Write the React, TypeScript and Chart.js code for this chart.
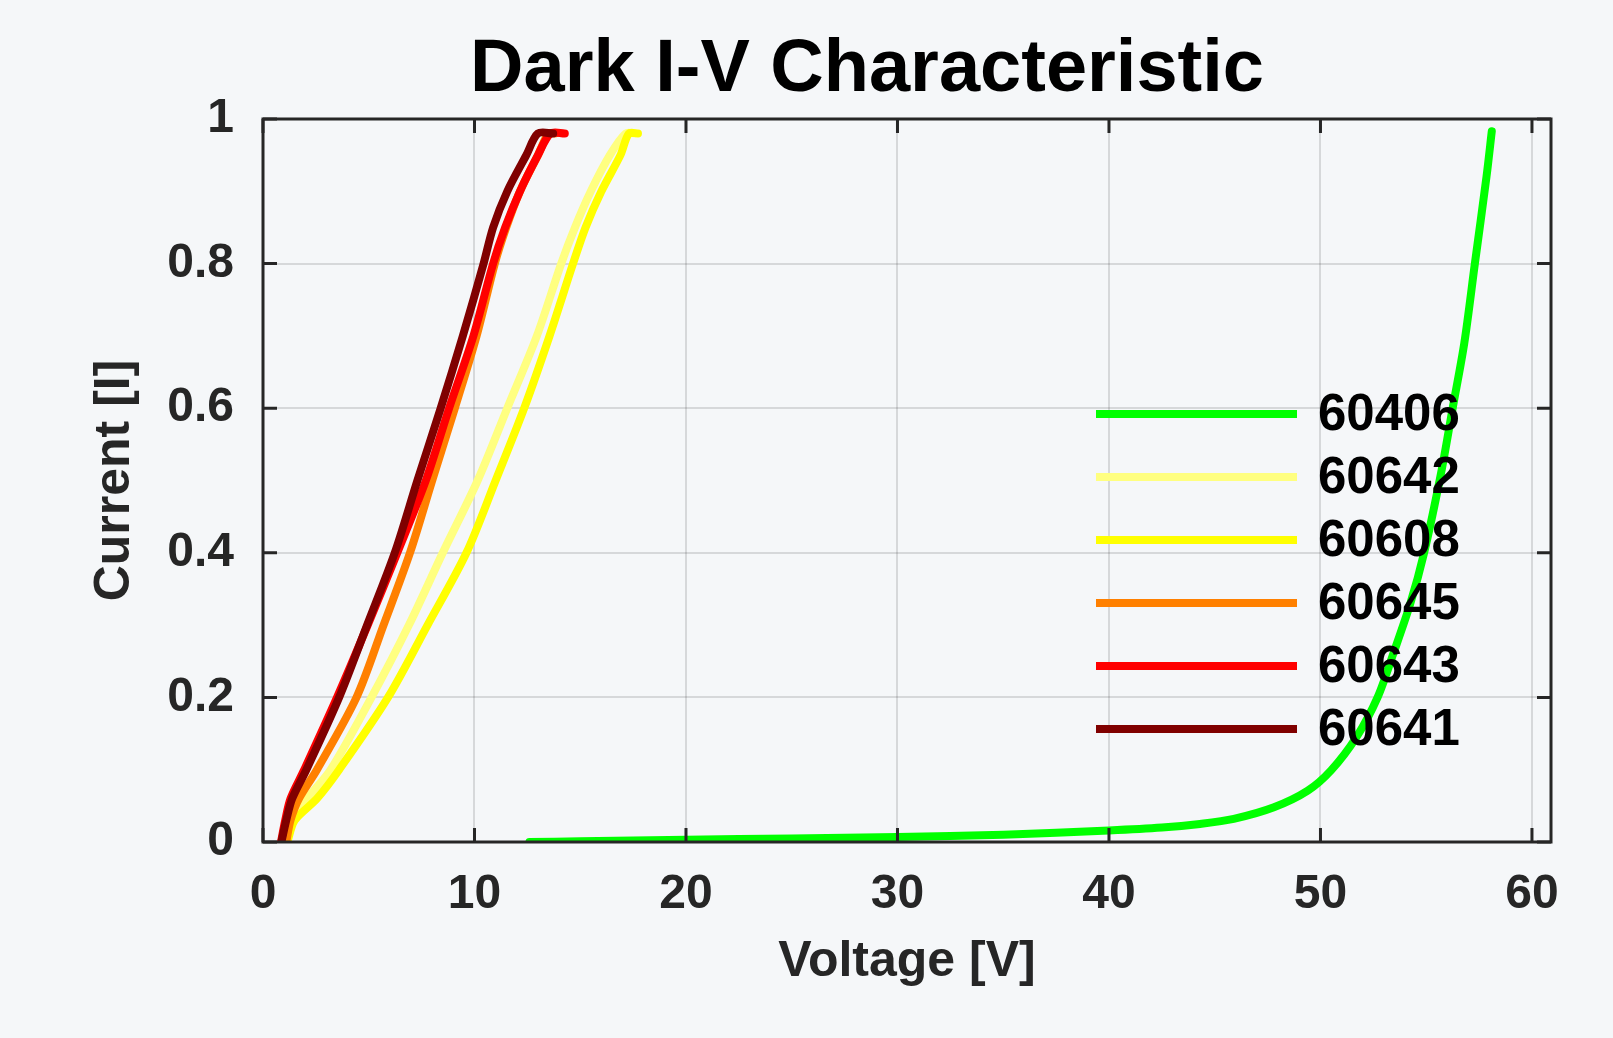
import React, { useEffect, useRef } from "react";
import { Chart, registerables } from "chart.js";

Chart.register(...registerables);

const FONT = '"Liberation Sans", Arial, Helvetica, sans-serif';
const BG = "#f5f7f9";
const AXIS_COLOR = "#262626";

const TITLE = "Dark I-V Characteristic";
const X_LABEL = "Voltage [V]";
const Y_LABEL = "Current [I]";
const X_TICKS = [0, 10, 20, 30, 40, 50, 60];
const Y_TICKS = [0, 0.2, 0.4, 0.6, 0.8, 1];

const SERIES_NAMES = ["60406", "60642", "60608", "60645", "60643", "60641"];
const SERIES_COLORS = ["#00ff00", "#ffff80", "#ffff00", "#ff8000", "#ff0000", "#800000"];

// 60406 (green) — voltage / current pairs
const V_60406 = [12.6, 15, 20, 25, 30, 35, 40, 42.5, 44.3, 45.9, 47.8, 49.4, 50.5, 51.7, 52.7, 53.45, 54.25, 54.9, 55.7, 56.25, 56.8, 57.3, 57.85, 58.1];
const I_60406 = [0, 0.001, 0.003, 0.005, 0.007, 0.01, 0.016, 0.02, 0.025, 0.032, 0.048, 0.071, 0.099, 0.145, 0.2, 0.261, 0.33, 0.4, 0.51, 0.6, 0.69, 0.8, 0.92, 0.983];

// current levels shared by the other five curves
const I_LEVELS = [0, 0.03, 0.06, 0.1, 0.2, 0.3, 0.4, 0.5, 0.6, 0.7, 0.8, 0.85, 0.9, 0.95, 0.98, 0.98];
const V_60642 = [1.1, 1.45, 2.1, 3.2, 5.13, 6.9, 8.5, 10.15, 11.55, 12.95, 14.1, 14.75, 15.5, 16.4, 17.15, 17.6];
const V_60608 = [1.15, 1.5, 2.55, 3.6, 5.91, 7.78, 9.62, 11.0, 12.35, 13.55, 14.66, 15.25, 16.0, 16.9, 17.3, 17.73];
const V_60645 = [1.1, 1.3, 1.7, 2.55, 4.42, 5.7, 6.95, 8.0, 9.07, 10.1, 10.96, 11.5, 12.15, 13.0, 13.5, 13.8];
const V_60643 = [0.85, 1.05, 1.3, 1.95, 3.5, 4.95, 6.35, 7.7, 8.8, 9.95, 10.88, 11.45, 12.15, 13.0, 13.6, 14.27];
const V_60641 = [0.87, 1.1, 1.38, 2.05, 3.6, 4.92, 6.23, 7.3, 8.4, 9.45, 10.43, 10.88, 11.55, 12.45, 13.0, 13.72];

const SERIES_V = [V_60406, V_60642, V_60608, V_60645, V_60643, V_60641];
const SERIES_I = [I_60406, I_LEVELS, I_LEVELS, I_LEVELS, I_LEVELS, I_LEVELS];

const W = 1613;
const H = 1038;

const framePlugin = {
  id: "frame",
  beforeDraw(chart: any) {
    const { ctx } = chart;
    ctx.save();
    ctx.fillStyle = BG;
    ctx.fillRect(0, 0, chart.width, chart.height);
    ctx.restore();
  },
  afterDatasetsDraw(chart: any) {
    const { ctx, chartArea: a, scales } = chart;
    const TL = 14;
    ctx.save();
    ctx.strokeStyle = AXIS_COLOR;
    ctx.lineWidth = 3;
    ctx.beginPath();
    X_TICKS.forEach((v) => {
      const px = scales.x.getPixelForValue(v);
      ctx.moveTo(px, a.bottom);
      ctx.lineTo(px, a.bottom - TL);
      ctx.moveTo(px, a.top);
      ctx.lineTo(px, a.top + TL);
    });
    Y_TICKS.forEach((v) => {
      const py = scales.y.getPixelForValue(v);
      ctx.moveTo(a.left, py);
      ctx.lineTo(a.left + TL, py);
      ctx.moveTo(a.right, py);
      ctx.lineTo(a.right - TL, py);
    });
    ctx.stroke();
    ctx.strokeRect(a.left, a.top, a.right - a.left, a.bottom - a.top);

    // legend
    const lx0 = 1096;
    const lx1 = 1297;
    const tx = 1318;
    const ly0 = 414;
    const step = 63;
    ctx.font = `bold 51px ${FONT}`;
    ctx.textBaseline = "middle";
    ctx.textAlign = "left";
    chart.data.datasets.forEach((ds: any, i: number) => {
      const y = ly0 + i * step;
      ctx.strokeStyle = ds.borderColor;
      ctx.lineWidth = 8;
      ctx.beginPath();
      ctx.moveTo(lx0, y);
      ctx.lineTo(lx1, y);
      ctx.stroke();
      ctx.fillStyle = "#000000";
      ctx.fillText(ds.label, tx, y + 2);
    });

    // title
    ctx.font = `bold 74px ${FONT}`;
    ctx.textAlign = "center";
    ctx.textBaseline = "alphabetic";
    ctx.fillStyle = "#000000";
    ctx.fillText(TITLE, 867, 91);
    ctx.restore();
  },
};

export default function App() {
  const ref = useRef<HTMLCanvasElement | null>(null);

  useEffect(() => {
    document.body.style.margin = "0";
    document.body.style.background = BG;
    const canvas = ref.current;
    if (!canvas) return;
    const datasets = SERIES_NAMES.map((name, i) => ({
      label: name,
      data: SERIES_V[i].map((v, k) => ({ x: v, y: SERIES_I[i][k] })),
      borderColor: SERIES_COLORS[i],
      backgroundColor: SERIES_COLORS[i],
      borderWidth: 8,
      pointRadius: 0,
      tension: 0.3,
      borderCapStyle: "round" as const,
      borderJoinStyle: "round" as const,
      fill: false,
      order: SERIES_NAMES.length - i,
    }));

    const chart = new Chart(canvas, {
      type: "line",
      data: { datasets },
      plugins: [framePlugin],
      options: {
        animation: false,
        responsive: false,
        devicePixelRatio: 1,
        events: [],
        layout: { padding: { left: 0, right: 62, top: 119, bottom: 0 } },
        plugins: {
          legend: { display: false },
          title: { display: false },
          tooltip: { enabled: false },
        },
        scales: {
          x: {
            type: "linear",
            min: 0,
            max: 60.9,
            afterBuildTicks: (s: any) => {
              s.ticks = X_TICKS.map((v) => ({ value: v }));
            },
            afterFit: (s: any) => {
              s.height = 196;
            },
            ticks: {
              color: AXIS_COLOR,
              font: { family: FONT, size: 48, weight: "bold" },
              padding: 24,
              maxRotation: 0,
              autoSkip: false,
              callback: (v: any) => String(v),
            },
            grid: { color: "rgba(38,38,38,0.15)", lineWidth: 2, drawTicks: false },
            border: { display: false },
            title: {
              display: true,
              text: X_LABEL,
              color: AXIS_COLOR,
              font: { family: FONT, size: 50, weight: "bold" },
              padding: { top: 0, bottom: 46 },
            },
          },
          y: {
            type: "linear",
            min: 0,
            max: 1,
            afterBuildTicks: (s: any) => {
              s.ticks = Y_TICKS.map((v) => ({ value: v }));
            },
            afterFit: (s: any) => {
              s.width = 263;
            },
            ticks: {
              color: AXIS_COLOR,
              font: { family: FONT, size: 48, weight: "bold" },
              padding: 29,
              autoSkip: false,
              callback: (v: any) => String(v),
            },
            grid: { color: "rgba(38,38,38,0.15)", lineWidth: 2, drawTicks: false },
            border: { display: false },
            title: {
              display: true,
              text: Y_LABEL,
              color: AXIS_COLOR,
              font: { family: FONT, size: 50, weight: "bold" },
              padding: { top: 85, bottom: 0 },
            },
          },
        },
      },
    });
    return () => chart.destroy();
  }, []);

  return (
    <div style={{ position: "fixed", left: 0, top: 0, width: W, height: H, background: BG }}>
      <canvas ref={ref} width={W} height={H} style={{ width: W, height: H, display: "block" }} />
    </div>
  );
}
